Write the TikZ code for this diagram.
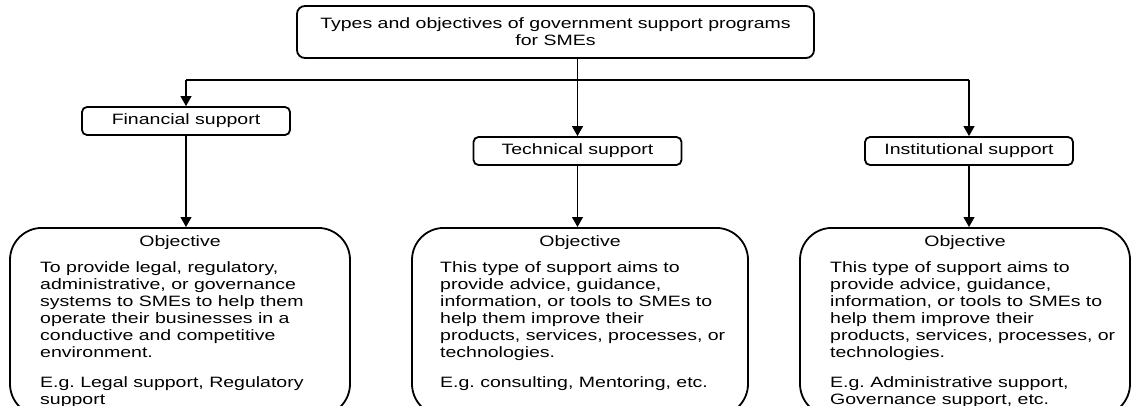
\documentclass[tikz,border=0pt]{standalone}
\usepackage{fontspec}
\setmainfont{Liberation Sans}[FakeStretch=1.3]
\usepackage{tikz}
\usetikzlibrary{positioning}
\usetikzlibrary{arrows.meta}
\tikzset{boxfont/.style={font=\fontsize{15}{17}\selectfont}}
\tikzset{titlebox/.style={rectangle, rounded corners=8pt, draw=black, line width=1.8pt, minimum width=517pt, minimum height=52pt, align=center, boxfont}}
\tikzset{supportbox/.style={rectangle, rounded corners=5pt, draw=black, line width=1.8pt, minimum width=208pt, minimum height=28pt, boxfont}}
\tikzset{objbox/.style={rectangle, rounded corners=32pt, draw=black, line width=1.8pt, minimum height=188pt, anchor=north}}
\tikzset{objtext/.style={align=left, anchor=north west, inner sep=0pt, boxfont}}
\tikzset{conn/.style={line width=1.1pt, -{Triangle[length=10pt,width=11pt]}}}

\begin{document}
\begin{tikzpicture}[x=1pt,y=-1pt]
    \useasboundingbox (0,0) rectangle (1132,405);
    \clip (0,0) rectangle (1132,405);

    \node [titlebox](title) at (555.5,32){Types and objectives of government support programs\\for SMEs};
    \coordinate (split) at (578,80);

    \node [supportbox](fin) at (186,121){Financial support};
    \node [supportbox](tech) at (577.5,151){Technical support};
    \node [supportbox](inst) at (969,151){Institutional support};

    \node [objbox, minimum width=340pt](obj1) at (180,227){};
    \node [objbox, minimum width=336pt](obj2) at (580,227){};
    \node [objbox, minimum width=330pt](obj3) at (965,227){};

    \node [boxfont](head1) at (180,243){Objective};
    \node [boxfont](head2) at (580,243){Objective};
    \node [boxfont](head3) at (965,243){Objective};

    \node [objtext](aim1) at (40,261){To provide legal, regulatory,\\administrative, or governance\\systems to SMEs to help them\\operate their businesses in a\\conductive and competitive\\environment.\\[13pt]E.g.\ Legal support, Regulatory\\support};
    \node [objtext](aim2) at (440,261){This type of support aims to\\provide advice, guidance,\\information, or tools to SMEs to\\help them improve their\\products, services, processes, or\\technologies.\\[13pt]E.g.\ consulting, Mentoring, etc.};
    \node [objtext](aim3) at (830,261){This type of support aims to\\provide advice, guidance,\\information, or tools to SMEs to\\help them improve their\\products, services, processes, or\\technologies.\\[13pt]E.g.\ Administrative support,\\Governance support, etc.};

    \draw[conn] (tech.north |- title.south) -- (tech.north);
    \draw[line width=1.1pt] (fin.north |- split) -- (inst.north |- split);
    \draw[conn] (fin.north |- split) -- (fin.north);
    \draw[conn] (inst.north |- split) -- (inst.north);

    \draw[conn] (fin.south) -- (fin.south |- obj1.north);
    \draw[conn] (tech.south) -- (tech.south |- obj2.north);
    \draw[conn] (inst.south) -- (inst.south |- obj3.north);
\end{tikzpicture}
\end{document}
